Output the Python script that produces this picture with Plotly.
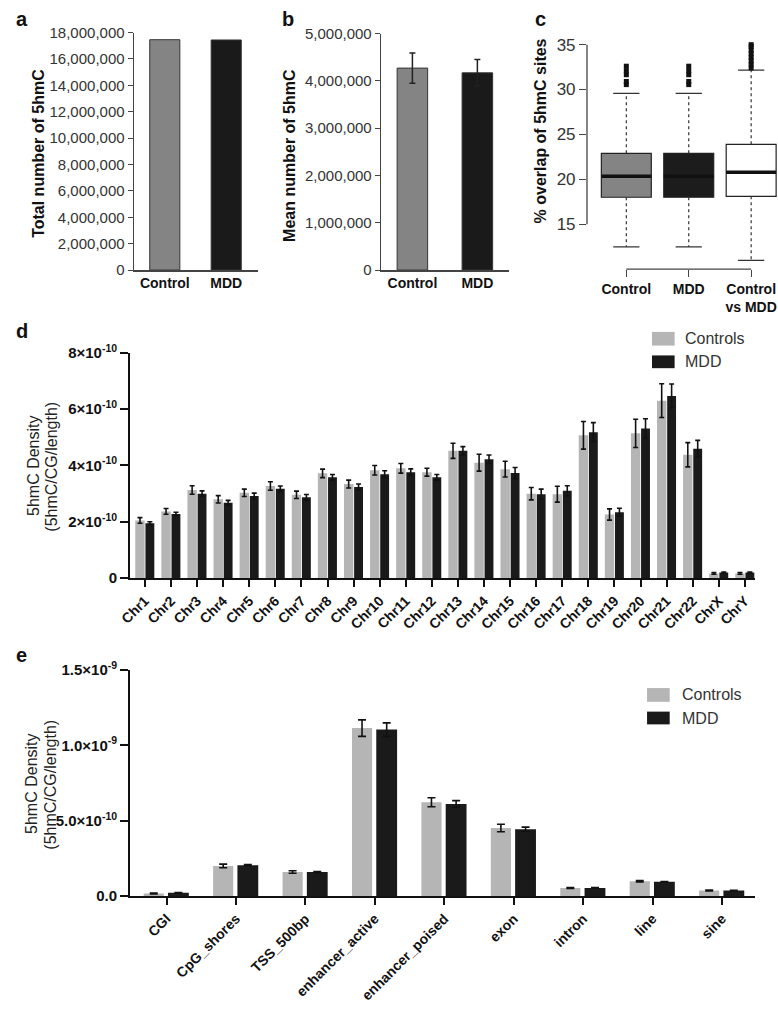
import numpy as np
import plotly.graph_objects as go

W, H = 778, 1014
FONT = "Liberation Sans, Arial, Helvetica, sans-serif"

# ---------------- data ----------------
# panel a
groups_ab = ["Control", "MDD"]
total_5hmc = [17.46e6, 17.44e6]
# panel b
mean_5hmc = [4.27e6, 4.17e6]
mean_5hmc_err = [0.32e6, 0.28e6]
# panel c (box statistics, % overlap)
box_labels = ["Control", "MDD", "Control<br>vs MDD"]
box_q1 = [18.0, 18.0, 18.1]
box_med = [20.33, 20.33, 20.8]
box_q3 = [22.9, 22.9, 23.9]
box_lo = [12.47, 12.47, 10.98]
box_hi = [29.57, 29.57, 32.16]
out_ctrl = [30.55, 30.9, 31.65, 32.1, 32.6]
out_mdd = [30.55, 30.9, 31.65, 32.1, 32.6]
out_cvm = [32.4, 32.8, 33.2, 33.6, 34.0, 34.4, 34.8, 35.0]
box_fill = ["#848484", "#1c1c1c", "#ffffff"]
# panel d (units of 1e-10)
chr_labels = ["Chr%d" % i for i in range(1, 23)] + ["ChrX", "ChrY"]
chr_ctrl = [2.05, 2.37, 3.13, 2.80, 3.03, 3.27, 2.96, 3.72, 3.34, 3.83, 3.90, 3.76,
            4.52, 4.10, 3.87, 3.00, 2.98, 5.07, 2.26, 5.14, 6.30, 4.38, 0.17, 0.17]
chr_mdd = [1.95, 2.28, 3.00, 2.68, 2.92, 3.17, 2.87, 3.58, 3.24, 3.69, 3.76, 3.58,
           4.52, 4.22, 3.73, 2.98, 3.10, 5.18, 2.34, 5.31, 6.47, 4.59, 0.20, 0.20]
chr_ctrl_err = [0.10, 0.10, 0.15, 0.13, 0.13, 0.15, 0.13, 0.15, 0.14, 0.17, 0.17, 0.14,
                0.27, 0.30, 0.28, 0.22, 0.28, 0.49, 0.20, 0.50, 0.60, 0.43, 0.03, 0.03]
chr_mdd_err = [0.05, 0.06, 0.10, 0.08, 0.10, 0.10, 0.10, 0.10, 0.10, 0.12, 0.12, 0.10,
               0.15, 0.15, 0.20, 0.18, 0.18, 0.34, 0.14, 0.35, 0.42, 0.30, 0.02, 0.02]
# panel e (units of 1e-10)
region_labels = ["CGI", "CpG_shores", "TSS_500bp", "enhancer_active", "enhancer_poised",
                 "exon", "intron", "line", "sine"]
reg_ctrl = [0.17, 2.00, 1.60, 11.15, 6.23, 4.52, 0.54, 0.99, 0.37]
reg_mdd = [0.22, 2.05, 1.60, 11.05, 6.12, 4.44, 0.54, 0.95, 0.37]
reg_ctrl_err = [0.03, 0.12, 0.08, 0.55, 0.30, 0.25, 0.03, 0.05, 0.03]
reg_mdd_err = [0.02, 0.04, 0.03, 0.45, 0.22, 0.14, 0.02, 0.02, 0.02]
SCALE = 1e-10

d_ticks = [0, 2e-10, 4e-10, 6e-10, 8e-10]
d_ticktext = ["0", "2×10<sup>-10</sup>", "4×10<sup>-10</sup>", "6×10<sup>-10</sup>", "8×10<sup>-10</sup>"]
e_ticks = [0, 5e-10, 1e-9, 1.5e-9]
e_ticktext = ["0.0", "5.0×10<sup>-10</sup>", "1.0×10<sup>-9</sup>", "1.5×10<sup>-9</sup>"]

GRAY_LIGHT = "#b5b5b5"
BLACK = "#1a1a1a"


def xd(a, b):
    return [a / W, b / W]


def yd(top, bottom):
    return [1 - bottom / H, 1 - top / H]


def px(x):
    return x / W


def py(y):
    return 1 - y / H


fig = go.Figure()

# ---- panel a ----
fig.add_trace(go.Bar(x=[0, 1], y=total_5hmc, width=0.49, offset=-0.245,
                     marker=dict(color=["#848484", BLACK], line=dict(color="#333", width=1)),
                     xaxis="x", yaxis="y", hoverinfo="skip"))
# ---- panel b ----
fig.add_trace(go.Bar(x=[0, 1], y=mean_5hmc, width=0.47, offset=-0.235,
                     marker=dict(color=["#848484", BLACK], line=dict(color="#333", width=1)),
                     error_y=dict(type="data", array=mean_5hmc_err, color="#222", thickness=1.5, width=3),
                     xaxis="x2", yaxis="y2", hoverinfo="skip"))

# ---- panel c ----
for i in range(3):
    fig.add_trace(go.Box(x=[i], q1=[box_q1[i]], median=[box_med[i]], q3=[box_q3[i]],
                         lowerfence=[box_q1[i]], upperfence=[box_q3[i]],
                         width=0.8, whiskerwidth=0, fillcolor=box_fill[i],
                         line=dict(color="#222", width=1.2), boxpoints=False,
                         xaxis="x3", yaxis="y3", hoverinfo="skip"))
wx, wy, cx, cy, mx, my = [], [], [], [], [], []
for i in range(3):
    wx += [i, i, None, i, i, None]
    wy += [box_q3[i], box_hi[i], None, box_q1[i], box_lo[i], None]
    cx += [i - 0.21, i + 0.21, None, i - 0.21, i + 0.21, None]
    cy += [box_hi[i], box_hi[i], None, box_lo[i], box_lo[i], None]
    mx += [i - 0.4, i + 0.4, None]
    my += [box_med[i], box_med[i], None]
fig.add_trace(go.Scatter(x=wx, y=wy, mode="lines", line=dict(color="#333", width=1.2, dash="3px,3px"),
                         xaxis="x3", yaxis="y3", hoverinfo="skip"))
fig.add_trace(go.Scatter(x=cx, y=cy, mode="lines", line=dict(color="#333", width=1.3),
                         xaxis="x3", yaxis="y3", hoverinfo="skip"))
fig.add_trace(go.Scatter(x=mx, y=my, mode="lines", line=dict(color="#111", width=3.5),
                         xaxis="x3", yaxis="y3", hoverinfo="skip"))
ox = [0] * len(out_ctrl) + [1] * len(out_mdd) + [2] * len(out_cvm)
oy = out_ctrl + out_mdd + out_cvm
fig.add_trace(go.Scatter(x=ox, y=oy, mode="markers",
                         marker=dict(symbol="square", size=5, color="#111"),
                         xaxis="x3", yaxis="y3", hoverinfo="skip", cliponaxis=False))

# ---- panel d ----
xi = list(range(len(chr_labels)))
fig.add_trace(go.Bar(x=xi, y=np.array(chr_ctrl) * SCALE, offset=-0.37, width=0.36,
                     marker=dict(color=GRAY_LIGHT, line=dict(width=0)),
                     error_y=dict(type="data", array=np.array(chr_ctrl_err) * SCALE,
                                  color="#111", thickness=1.6, width=2.5),
                     xaxis="x4", yaxis="y4", hoverinfo="skip"))
fig.add_trace(go.Bar(x=xi, y=np.array(chr_mdd) * SCALE, offset=0.02, width=0.34,
                     marker=dict(color=BLACK, line=dict(width=0)),
                     error_y=dict(type="data", array=np.array(chr_mdd_err) * SCALE,
                                  color="#111", thickness=1.6, width=2.5),
                     xaxis="x4", yaxis="y4", hoverinfo="skip"))

# ---- panel e ----
ri = list(range(len(region_labels)))
fig.add_trace(go.Bar(x=ri, y=np.array(reg_ctrl) * SCALE, offset=-0.33, width=0.29,
                     marker=dict(color=GRAY_LIGHT, line=dict(width=0)),
                     error_y=dict(type="data", array=np.array(reg_ctrl_err) * SCALE,
                                  color="#111", thickness=1.6, width=4),
                     xaxis="x5", yaxis="y5", hoverinfo="skip"))
fig.add_trace(go.Bar(x=ri, y=np.array(reg_mdd) * SCALE, offset=0.02, width=0.30,
                     marker=dict(color=BLACK, line=dict(width=0)),
                     error_y=dict(type="data", array=np.array(reg_mdd_err) * SCALE,
                                  color="#111", thickness=1.6, width=4),
                     xaxis="x5", yaxis="y5", hoverinfo="skip"))

common = dict(showgrid=False, zeroline=False, fixedrange=True)
bold14 = dict(family=FONT, size=14, color="#111", weight="bold")

fig.update_layout(
    width=W, height=H, margin=dict(l=0, r=0, t=0, b=0),
    paper_bgcolor="white", plot_bgcolor="white",
    barmode="overlay", showlegend=False,
    font=dict(family=FONT, color="#222"),
    # a
    xaxis=dict(domain=xd(124, 250), anchor="y", range=[-0.5, 1.52], tickvals=[0, 1],
               ticktext=groups_ab, ticks="", showline=True, linecolor="#444", linewidth=1.5,
               tickfont=bold14, **common),
    yaxis=dict(domain=yd(22, 264), anchor="x", range=[0, 18e6], tickmode="linear", tick0=0,
               dtick=2e6, tickformat=",", ticks="outside", ticklen=5, tickcolor="#444",
               showline=True, linecolor="#444", linewidth=1.5,
               tickfont=dict(family=FONT, size=15, color="#333"), **common),
    # b
    xaxis2=dict(domain=xd(375, 505), anchor="y2", range=[-0.48, 1.49], tickvals=[0, 1],
                ticktext=groups_ab, ticks="", showline=True, linecolor="#444", linewidth=1.5,
                tickfont=bold14, **common),
    yaxis2=dict(domain=yd(23, 264), anchor="x2", range=[0, 5e6], tickmode="linear", tick0=0,
                dtick=1e6, tickformat=",", ticks="outside", ticklen=5, tickcolor="#444",
                showline=True, linecolor="#444", linewidth=1.5,
                tickfont=dict(family=FONT, size=15, color="#333"), **common),
    # c
    xaxis3=dict(domain=xd(584, 778), anchor="y3", range=[-0.63, 2.43], tickvals=[0, 1, 2],
                ticktext=box_labels, ticks="outside", ticklen=7, tickcolor="#444", tickwidth=1.3,
                showline=False, tickfont=bold14, **common),
    yaxis3=dict(domain=yd(30, 263), anchor="x3", range=[10.0, 35.47], tickvals=[15, 20, 25, 30, 35],
                ticks="outside", ticklen=7, tickcolor="#444", tickwidth=1.3, showline=False,
                tickfont=dict(family=FONT, size=17, color="#333"), **common),
    # d
    xaxis4=dict(domain=xd(120, 755), anchor="y4", range=[-0.566, 23.4], tickvals=xi,
                ticktext=chr_labels, tickangle=-45, ticks="outside", ticklen=7, tickwidth=2,
                tickcolor="#111", showline=True, linecolor="#111", linewidth=2,
                tickfont=dict(family=FONT, size=14, color="#111", weight="bold"), **common),
    yaxis4=dict(domain=yd(348.3, 578), anchor="x4", range=[0, 8e-10], tickvals=d_ticks,
                ticktext=d_ticktext, ticks="outside", ticklen=8, tickwidth=2, tickcolor="#111",
                showline=True, linecolor="#111", linewidth=2,
                tickfont=dict(family=FONT, size=15, color="#111", weight="bold"), **common),
    # e
    xaxis5=dict(domain=xd(120, 755), anchor="y5", range=[-0.525, 8.48], tickvals=ri,
                ticktext=region_labels, tickangle=-45, ticks="outside", ticklen=7, tickwidth=2,
                tickcolor="#111", showline=True, linecolor="#111", linewidth=2,
                tickfont=dict(family=FONT, size=14, color="#111", weight="bold"), **common),
    yaxis5=dict(domain=yd(671.7, 902), anchor="x5", range=[0, 1.5e-9], tickvals=e_ticks,
                ticktext=e_ticktext, ticks="outside", ticklen=8, tickwidth=2, tickcolor="#111",
                showline=True, linecolor="#111", linewidth=2,
                tickfont=dict(family=FONT, size=15, color="#111", weight="bold"), **common),
)

shapes = [
    # panel c y-axis line (15..35) and x bracket
    dict(type="line", xref="x3 domain", yref="y3", x0=0, x1=0, y0=15, y1=35,
         line=dict(color="#444", width=1.3)),
    dict(type="line", xref="x3", yref="y3 domain", x0=0, x1=2, y0=0, y1=0,
         line=dict(color="#444", width=1.3)),
]
# legend swatches
for (x0, y0, y1, col) in [(650, 327, 341, GRAY_LIGHT), (650, 351, 364, BLACK),
                          (645, 690, 704, GRAY_LIGHT), (645, 714, 727, BLACK)]:
    shapes.append(dict(type="rect", xref="paper", yref="paper", x0=px(x0), x1=px(x0 + 23),
                       y0=py(y1), y1=py(y0), fillcolor=col, line=dict(width=0)))
fig.update_layout(shapes=shapes)

ann = []


def add_text(x, y, text, size, bold=False, angle=0, xanchor="center", color="#111"):
    ann.append(dict(x=px(x), y=py(y), xref="paper", yref="paper", text=text, showarrow=False,
                    textangle=angle, xanchor=xanchor, yanchor="middle",
                    font=dict(family=FONT, size=size, color=color, weight="bold" if bold else "normal")))


# panel letters
add_text(2, 8.4, "a", 20, True, xanchor="left")
add_text(272, 8.4, "b", 20, True, xanchor="left")
add_text(529, 8.4, "c", 20, True, xanchor="left")
add_text(2, 326.4, "d", 20, True, xanchor="left")
add_text(2, 656.4, "e", 20, True, xanchor="left")
# axis titles
add_text(27, 145, "Total number of 5hmC", 16, True, -90)
add_text(282, 147, "Mean number of 5hmC", 16, True, -90)
add_text(537, 122, "% overlap of 5hmC sites", 16, True, -90)
add_text(22, 464, "5hmC Density", 16, False, -90, color="#222")
add_text(40, 464, "(5hmC/CG/length)", 16, False, -90, color="#222")
add_text(20, 788, "5hmC Density", 16, False, -90, color="#222")
add_text(39, 788, "(5hmC/CG/length)", 16, False, -90, color="#222")
# legends
add_text(682, 334, "Controls", 16, False, xanchor="left", color="#333")
add_text(682, 357.5, "MDD", 16, False, xanchor="left", color="#333")
add_text(678, 697, "Controls", 16, False, xanchor="left", color="#333")
add_text(678, 720.7, "MDD", 16, False, xanchor="left", color="#333")
fig.update_layout(annotations=ann)

fig.write_html("out.html", config={"displayModeBar": False, "staticPlot": True},
               post_script="document.body.style.margin='0';document.body.style.padding='0';"
                           "document.body.style.overflow='hidden';"
                           "document.documentElement.style.overflow='hidden';")
